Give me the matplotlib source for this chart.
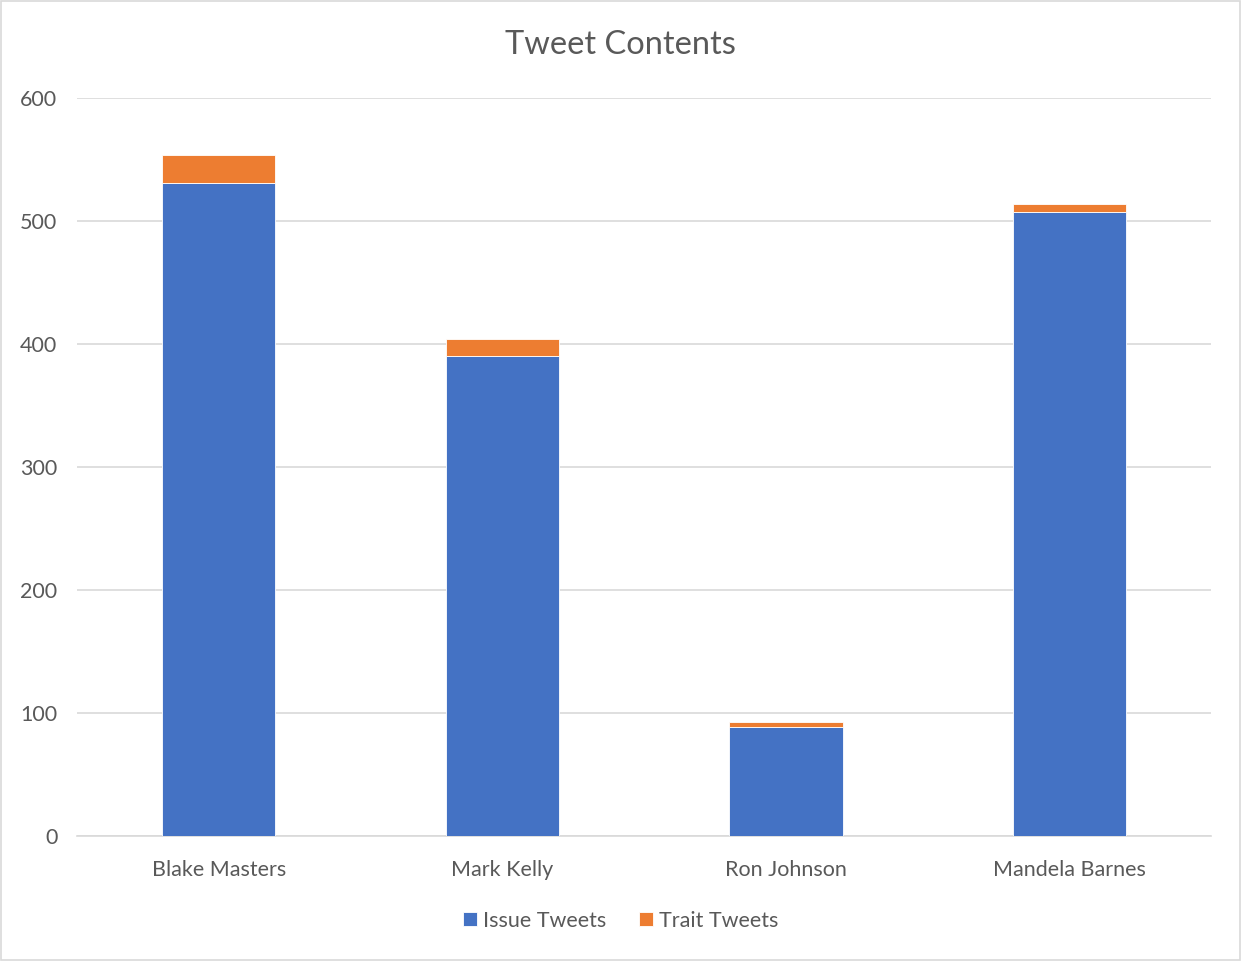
import matplotlib.pyplot as plt
import numpy as np
from matplotlib.patches import Rectangle

candidates = ["Blake Masters", "Mark Kelly", "Ron Johnson", "Mandela Barnes"]
issue_tweets = [531, 390, 89, 507]
trait_tweets = [23, 14, 4, 7]

blue = "#4472C4"
orange = "#ED7D31"
text_col = "#595959"

plt.rcParams['font.family'] = ['Lato', 'DejaVu Sans']

fig = plt.figure(figsize=(12.41, 9.61), dpi=100)
ax = fig.add_axes([0.062, 0.130, 0.914, 0.768])

x = np.arange(len(candidates))
ax.bar(x, issue_tweets, width=0.4, color=blue, edgecolor="white", linewidth=0.6,
       label="Issue Tweets", zorder=3)
ax.bar(x, trait_tweets, width=0.4, bottom=issue_tweets, color=orange, edgecolor="white",
       linewidth=0.6, label="Trait Tweets", zorder=3)

ax.set_xlim(-0.5, len(candidates) - 0.5)
ax.set_ylim(0, 600)
ax.set_yticks(range(0, 601, 100))
ax.set_xticks(x)
ax.set_xticklabels(candidates)
ax.grid(axis="y", color="#D9D9D9", linewidth=1.2, zorder=0)
for s in ["top", "right", "left"]:
    ax.spines[s].set_visible(False)
ax.spines["bottom"].set_color("#D9D9D9")
ax.spines["bottom"].set_linewidth(1.2)
ax.tick_params(axis="both", length=0, colors=text_col, labelsize=15.5)
ax.tick_params(axis="y", pad=14)
ax.tick_params(axis="x", pad=17)

fig.text(0.5, 0.953, "Tweet Contents", ha="center", va="center", fontsize=23.5, color=text_col)

leg = fig.legend(loc="center", bbox_to_anchor=(0.5, 0.042), ncol=2, frameon=False,
                 fontsize=15.5, handlelength=0.65, handleheight=0.65, handletextpad=0.3,
                 columnspacing=1.5, labelcolor=text_col)

# thin outline around the whole chart
fig.patches.append(Rectangle((0.001, 0.001), 0.998, 0.998, transform=fig.transFigure,
                             fill=False, edgecolor="#D9D9D9", linewidth=1.2))

fig.savefig("out.png", dpi=100)
